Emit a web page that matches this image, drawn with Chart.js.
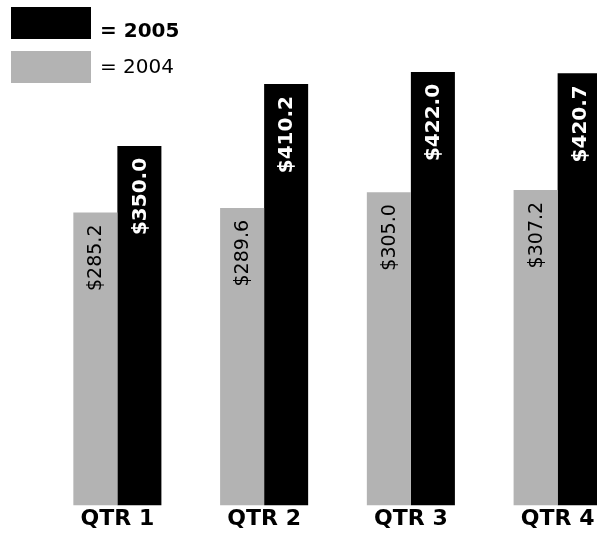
<!DOCTYPE html>
<html>
<head>
<meta charset="utf-8">
<script src="https://cdn.jsdelivr.net/npm/chart.js@4/dist/chart.umd.min.js"></script>
<style>
  html, body { margin: 0; padding: 0; background: #fff; overflow: hidden; width: 597px; height: 537px; }
  #wrap { position: absolute; left: 0; top: 0; width: 631px; height: 537px; }
  .lg-box { position: absolute; left: 11px; width: 80px; height: 32px; }
  .lg-txt { position: absolute; left: 100px; font-family: "DejaVu Sans", sans-serif; font-size: 20px; line-height: 20px; color: #000; white-space: nowrap; }
</style>
</head>
<body>
<div id="wrap"><canvas id="c"></canvas></div>
<div class="lg-box" style="top:7px;background:#000;"></div>
<div class="lg-txt" id="lg1" style="top:20px;font-weight:bold;"></div>
<div class="lg-box" style="top:51px;background:#b3b3b3;"></div>
<div class="lg-txt" id="lg2" style="top:56px;"></div>
<script>
const categories = ["QTR 1", "QTR 2", "QTR 3", "QTR 4"];
const values2004 = [285.2, 289.6, 305.0, 307.2];
const values2005 = [350.0, 410.2, 422.0, 420.7];
const seriesNames = ["2004", "2005"];
const legendTexts = ["= 2005", "= 2004"];

document.getElementById('lg1').textContent = legendTexts[0];
document.getElementById('lg2').textContent = legendTexts[1];

const GRAY = '#b3b3b3';
const BLACK = '#000000';

const valueLabels = {
  id: 'valueLabels',
  afterDatasetsDraw(chart) {
    const ctx = chart.ctx;
    chart.data.datasets.forEach((ds, di) => {
      const meta = chart.getDatasetMeta(di);
      meta.data.forEach((bar, i) => {
        const v = ds.data[i];
        const txt = '$' + v.toFixed(1);
        ctx.save();
        ctx.translate(bar.x, bar.y + 12);
        ctx.rotate(-Math.PI / 2);
        ctx.textAlign = 'right';
        ctx.textBaseline = 'middle';
        if (di === 1) {
          ctx.font = 'bold 20px "DejaVu Sans"';
          ctx.fillStyle = '#ffffff';
        } else {
          ctx.font = '19px "DejaVu Sans"';
          ctx.fillStyle = '#000000';
        }
        ctx.fillText(txt, 0, 1);
        ctx.restore();
      });
    });
  }
};

new Chart(document.getElementById('c'), {
  type: 'bar',
  data: {
    labels: categories,
    datasets: [
      { label: seriesNames[0], data: values2004, backgroundColor: GRAY, borderWidth: 0 },
      { label: seriesNames[1], data: values2005, backgroundColor: BLACK, borderWidth: 0 }
    ]
  },
  options: {
    responsive: true,
    maintainAspectRatio: false,
    animation: false,
    devicePixelRatio: 1,
    layout: { padding: { left: 44, right: 0, top: 0, bottom: 5 } },
    plugins: { legend: { display: false }, tooltip: { enabled: false } },
    datasets: { bar: { categoryPercentage: 0.6, barPercentage: 1.0 } },
    scales: {
      x: {
        grid: { display: false, drawTicks: false },
        border: { display: false },
        ticks: { color: '#000', padding: 0, font: { family: '"DejaVu Sans"', size: 22, weight: 'bold', lineHeight: 1.2 } }
      },
      y: {
        display: false,
        min: 0,
        max: 492
      }
    }
  },
  plugins: [valueLabels]
});
</script>
</body>
</html>
